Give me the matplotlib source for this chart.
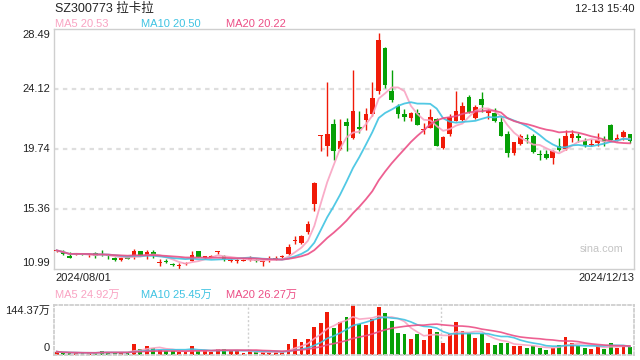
import matplotlib
matplotlib.use('Agg')
import matplotlib.pyplot as plt
import numpy as np
import pandas as pd

plt.rcParams['font.family'] = ['Liberation Sans', 'Noto Sans CJK SC', 'DejaVu Sans']

title = 'SZ300773 拉卡拉'
timestamp = '12-13 15:40'
start_date = '2024/08/01'
end_date = '2024/12/13'
price_ticks = [10.99, 15.36, 19.74, 24.12, 28.49]
vol_ticks = [0, 144.37]
vol_tick_labels = ['0', '144.37万']
ma_price_labels = ['MA5 20.53', 'MA10 20.50', 'MA20 20.22']
ma_vol_labels = ['MA5 24.92万', 'MA10 25.45万', 'MA20 26.27万']
ma_windows = [5, 10, 20]

opens = [12.28, 12.23, 11.93, 12.03, 12.09, 12.04, 12.13, 12.08, 12.03, 11.81,
         11.67, 11.84, 11.86, 12.28, 11.98, 12.23, 11.43, 11.61, 11.37, 11.23,
         11.32, 11.61, 12.28, 11.78, 11.90, 12.20, 11.91, 11.57, 11.56, 11.59,
         11.66, 11.66, 11.47, 11.67, 11.71, 11.87, 12.06, 13.06, 12.92, 13.70,
         15.71, 20.70, 19.95, 21.59, 19.75, 21.74, 20.56, 21.39, 21.86, 22.28,
         23.99, 27.13, 23.97, 22.86, 22.28, 21.98, 22.40, 21.15, 21.25, 21.96,
         19.83, 20.83, 21.76, 21.86, 23.53, 22.00, 23.43, 22.35, 22.40, 21.71,
         20.81, 19.46, 20.14, 20.52, 20.73, 19.36, 19.41, 19.09, 19.99, 19.75,
         20.59, 20.73, 20.37, 20.05, 20.20, 20.49, 21.47, 20.37, 20.61, 20.81]
highs = [12.38, 12.35, 12.23, 12.18, 12.12, 12.18, 12.23, 12.40, 12.10, 11.86,
         11.86, 11.90, 12.48, 12.30, 12.40, 12.38, 11.69, 11.72, 11.40, 11.45,
         11.47, 12.28, 12.30, 11.95, 12.03, 12.33, 12.03, 11.72, 11.72, 11.70,
         11.91, 11.72, 11.66, 11.91, 11.91, 12.03, 12.79, 13.43, 13.50, 14.50,
         17.37, 20.76, 24.61, 21.96, 21.96, 22.03, 25.51, 22.50, 22.77, 24.61,
         28.25, 27.18, 25.51, 23.01, 22.64, 22.45, 22.64, 21.67, 22.70, 22.03,
         20.68, 22.28, 23.99, 23.18, 23.70, 22.94, 23.92, 22.64, 22.77, 22.15,
         21.05, 20.29, 20.86, 20.81, 20.81, 19.70, 19.70, 19.70, 20.56, 21.17,
         21.17, 20.91, 20.56, 20.47, 20.93, 20.73, 21.59, 20.81, 21.17, 20.86]
lows = [12.26, 12.03, 11.76, 11.98, 12.03, 11.86, 11.79, 11.95, 11.71, 11.60,
        11.60, 11.70, 11.74, 11.96, 11.74, 11.78, 11.20, 11.42, 11.22, 10.99,
        11.30, 11.54, 11.84, 11.75, 11.83, 12.10, 11.61, 11.49, 11.42, 11.55,
        11.61, 11.52, 11.24, 11.50, 11.66, 11.78, 12.00, 12.84, 12.84, 13.58,
        15.24, 19.58, 19.21, 18.97, 19.70, 19.58, 20.49, 20.93, 21.12, 22.15,
        23.75, 24.19, 23.18, 22.03, 21.78, 21.78, 21.47, 20.81, 21.25, 19.94,
        19.78, 20.73, 21.76, 21.76, 22.40, 21.91, 22.45, 21.96, 21.71, 20.68,
        19.17, 19.34, 20.07, 20.20, 19.46, 18.97, 19.02, 18.65, 19.58, 19.70,
        20.24, 20.24, 19.87, 19.99, 19.99, 19.99, 20.39, 20.32, 20.44, 20.20]
closes = [12.35, 12.11, 11.81, 12.11, 12.07, 12.07, 11.91, 12.03, 11.91, 11.64,
          11.81, 11.71, 12.30, 11.98, 12.23, 12.03, 11.47, 11.49, 11.25, 11.26,
          11.42, 12.03, 11.86, 11.91, 11.92, 12.23, 11.69, 11.59, 11.59, 11.66,
          11.76, 11.56, 11.50, 11.69, 11.81, 11.89, 12.57, 13.10, 13.38, 14.31,
          17.30, 20.76, 20.88, 19.58, 20.37, 21.42, 22.50, 21.22, 22.28, 23.45,
          27.72, 24.43, 23.33, 22.30, 22.08, 22.35, 21.49, 21.20, 22.11, 19.99,
          20.61, 22.08, 22.50, 22.86, 22.45, 22.79, 22.94, 22.52, 21.78, 20.73,
          19.46, 20.24, 20.68, 20.48, 19.50, 19.33, 19.06, 19.63, 19.65, 20.73,
          20.88, 20.53, 20.07, 20.14, 20.44, 20.24, 20.44, 20.52, 20.98, 20.30]
volumes = [9.8, 6, 6, 6, 5, 6, 6, 12.8, 8, 6,
           8, 6, 30.4, 18.7, 24.6, 20.6, 15.7, 10.8, 10.8, 7.9,
           7.9, 24.6, 10.8, 10.8, 7.9, 18.7, 18.7, 10.8, 10.8, 4.9,
           10.8, 7.9, 7.9, 7.9, 7.9, 7.9, 30.4, 45.2, 36.3, 45.2,
           80.5, 92.5, 124.5, 78, 95, 110, 144.37, 90.5, 86.6, 104,
           138.6, 121.3, 99, 63.5, 60.6, 47, 61.6, 44.3, 76, 66.4,
           34.7, 61.6, 95.3, 69.3, 63.5, 50, 61.6, 34.7, 28.9, 34.7,
           34.7, 26, 26, 21.2, 26, 21.2, 15.4, 21.2, 28.9, 52,
           34.7, 25, 21.2, 18.3, 26, 18.3, 34.7, 21.2, 26, 23]

RED = '#f01a08'
GREEN = '#06a006'
MA_COLORS = ['#f9a3c2', '#3fc3e2', '#ec4f86']
BORDER = '#cfcfcf'
GRID = '#dedede'

W, H = 640, 360
fig = plt.figure(figsize=(W / 100, H / 100), dpi=100)
fig.patch.set_facecolor('white')

ax = fig.add_axes([54.3 / W, 1 - 269 / H, 580 / W, (269 - 29.3) / H])
axv = fig.add_axes([54.3 / W, 1 - 355 / H, 580 / W, 50 / H])

o = np.array(opens); h = np.array(highs); l = np.array(lows); c = np.array(closes)
v = np.array(volumes)
n = len(c)
x = np.arange(n)
up = c >= o
cols = np.where(up, RED, GREEN)

# main panel
ax.set_xlim(-0.37, n - 1 + 0.68)
ax.set_ylim(price_ticks[0], price_ticks[-1])
for t in price_ticks[1:-1]:
    ax.axhline(t, color=GRID, lw=1.6, ls=(0, (2, 2)), zorder=0)
ax.vlines(x, l, h, colors=cols, lw=1.0, zorder=2)
body_bottom = np.minimum(o, c)
body_h = np.maximum(np.abs(c - o), 0.07)
ax.bar(x, body_h, bottom=body_bottom, width=0.72, color=cols, linewidth=0, zorder=3)
cs = pd.Series(c)
for wdw, col in zip(ma_windows, MA_COLORS):
    ax.plot(x, cs.rolling(wdw, min_periods=1).mean(), color=col, lw=1.3, alpha=0.9, zorder=4)
ax.set_xticks([]); ax.set_yticks([])
for sp in ax.spines.values():
    sp.set_color(BORDER); sp.set_linewidth(1.0)

for i, t in enumerate(price_ticks):
    if i == 0:
        va, dy = 'bottom', 0.5
    elif i == len(price_ticks) - 1:
        va, dy = 'top', -0.5
    else:
        va, dy = 'center', 0
    ax.annotate(f'{t:.2f}', xy=(0, t), xycoords=('axes fraction', 'data'),
                xytext=(-3.2, dy), textcoords='offset points',
                ha='right', va=va, fontsize=8, color='#222222')

ax.text(1 - 11 / 580, 0.083, 'sina.com', transform=ax.transAxes, ha='right', va='center',
        fontsize=7.8, color='#c4c4c4')

# volume panel
axv.set_xlim(-0.37, n - 1 + 0.68)
axv.set_ylim(vol_ticks[0], vol_ticks[1])
axv.bar(x, v, width=0.6, color=cols, linewidth=0, zorder=2)
vs = pd.Series(v)
for wdw, col in zip(ma_windows, MA_COLORS):
    axv.plot(x, vs.rolling(wdw, min_periods=1).mean(), color=col, lw=1.2, alpha=0.9, zorder=3)
axv.set_xticks([]); axv.set_yticks([])
for sp in axv.spines.values():
    sp.set_color(BORDER); sp.set_linewidth(1.3); sp.set_linestyle((0, (1.5, 1.5)))
for frac in (1 / 3, 2 / 3):
    axv.axvline(axv.get_xlim()[0] + frac * (axv.get_xlim()[1] - axv.get_xlim()[0]),
                color=BORDER, lw=1.0, ls=(0, (1.5, 1.5)), zorder=1)
axv.annotate(vol_tick_labels[1], xy=(0, 1), xycoords='axes fraction', xytext=(-3.2, -0.5),
             textcoords='offset points', ha='right', va='top', fontsize=8, color='#222222')
axv.annotate(vol_tick_labels[0], xy=(0, 0), xycoords='axes fraction', xytext=(-3.2, 1.5),
             textcoords='offset points', ha='right', va='bottom', fontsize=8, color='#222222')

# header texts
fig.text(55 / W, 1 - 8.5 / H, title, ha='left', va='center', fontsize=9, color='#222222')
fig.text(634.3 / W, 1 - 8.5 / H, timestamp, ha='right', va='center', fontsize=8, color='#222222')
ma_x = [55, 140.7, 225.7]
for xx, lab, col in zip(ma_x, ma_price_labels, MA_COLORS):
    fig.text(xx / W, 1 - 24 / H, lab, ha='left', va='center', fontsize=8, color=col)
for xx, lab, col in zip(ma_x, ma_vol_labels, MA_COLORS):
    fig.text(xx / W, 1 - 295 / H, lab, ha='left', va='center', fontsize=8, color=col)
fig.text(55 / W, 1 - 278 / H, start_date, ha='left', va='center', fontsize=8, color='#222222')
fig.text(634.3 / W, 1 - 278 / H, end_date, ha='right', va='center', fontsize=8, color='#222222')

fig.savefig('out.png', dpi=100)
